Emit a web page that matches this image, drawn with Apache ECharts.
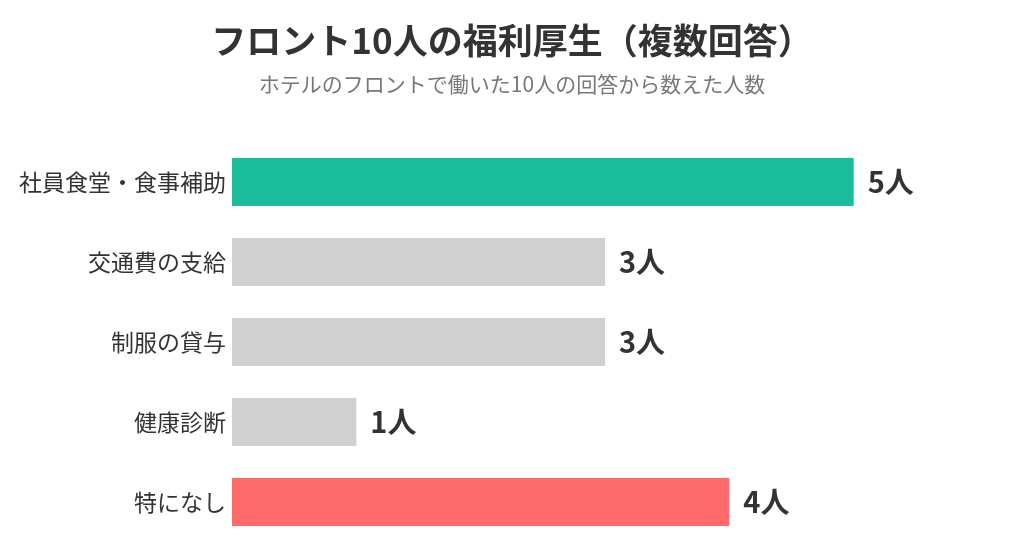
<!DOCTYPE html>
<html>
<head>
<meta charset="utf-8">
<script src="https://cdn.jsdelivr.net/npm/echarts@6/dist/echarts.min.js"></script>
<style>
  html, body { margin: 0; padding: 0; background: #fff; }
  #main { width: 1024px; height: 560px; }
</style>
</head>
<body>
<div id="main"></div>
<script>
// 福利厚生の回答数
var categories = ['社員食堂・食事補助', '交通費の支給', '制服の貸与', '健康診断', '特になし'];
var counts = [5, 3, 3, 1, 4];
var barColors = ['#1ABC9C', '#D0D0D0', '#D0D0D0', '#D0D0D0', '#FF6B6B'];

var fontFamily = '"Noto Sans CJK JP", "Noto Sans", sans-serif';

var chart = echarts.init(document.getElementById('main'));

var barData = counts.map(function (v, i) {
    return { value: v, itemStyle: { color: barColors[i] } };
});

var option = {
    backgroundColor: '#fff',
    animation: false,
    title: {
        text: 'フロント10人の福利厚生（複数回答）',
        subtext: 'ホテルのフロントで働いた10人の回答から数えた人数',
        left: 'center',
        top: 18,
        itemGap: 16,
        textStyle: {
            fontFamily: fontFamily,
            fontSize: 35,
            fontWeight: 'bold',
            color: '#333'
        },
        subtextStyle: {
            fontFamily: fontFamily,
            fontSize: 21,
            color: '#777'
        }
    },
    grid: {
        left: 232,
        right: 46,
        top: 142,
        bottom: 18
    },
    xAxis: {
        type: 'value',
        min: 0,
        max: 6,
        show: false
    },
    yAxis: {
        type: 'category',
        data: categories,
        inverse: true,
        axisLine: { show: false },
        axisTick: { show: false },
        splitLine: { show: false },
        axisLabel: {
            margin: 6,
            fontFamily: fontFamily,
            fontSize: 23,
            color: '#333'
        }
    },
    series: [
        {
            type: 'bar',
            data: barData,
            barWidth: 48,
            label: {
                show: true,
                position: 'right',
                distance: 14,
                formatter: '{c}人',
                fontFamily: fontFamily,
                fontSize: 29,
                fontWeight: 'bold',
                color: '#333'
            }
        }
    ]
};

chart.setOption(option);
</script>
</body>
</html>
